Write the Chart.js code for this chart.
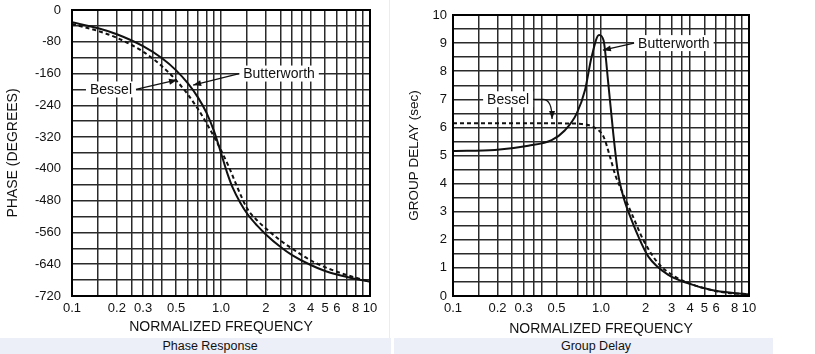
<!DOCTYPE html>
<html>
<head>
<meta charset="utf-8">
<script src="https://cdn.jsdelivr.net/npm/chart.js@4.4.0/dist/chart.umd.min.js"></script>
<style>
  body { margin: 0; background: #fff; width: 815px; height: 354px; position: relative; overflow: hidden;
         font-family: "Liberation Sans", Arial, sans-serif; }
  #w1 { position: absolute; left: 0; top: 0; }
  #w2 { position: absolute; left: 395px; top: 0; }
  #sep { position: absolute; left: 389px; top: 0; width: 1px; height: 338px; background: #ececec; }
  .cap { position: absolute; top: 338px; height: 16px; background: #eceef8; color: #111;
         font-size: 12.5px; line-height: 16px; text-align: center; box-sizing: border-box; }
  #cap1 { left: 0; width: 391px; padding-left: 29px; }
  #cap2 { left: 394px; width: 379px; padding-left: 25px; }
</style>
</head>
<body>
<canvas id="w1" width="390" height="338"></canvas>
<div id="sep"></div>
<canvas id="w2" width="420" height="338"></canvas>
<div class="cap" id="cap1">Phase Response</div>
<div class="cap" id="cap2">Group Delay</div>

<script>
// frequency axis
const freqTicks = [0.1, 0.2, 0.3, 0.5, 1.0, 2, 3, 4, 5, 6, 8, 10];
const freqTickLabels = ['0.1', '0.2', '0.3', '0.5', '1.0', '2', '3', '4', '5', '6', '8', '10'];
const phaseGrid = [0.1, 0.15, 0.2, 0.25, 0.3, 0.35, 0.4, 0.5, 0.6, 0.7, 0.8, 0.9,
                   1, 1.5, 2, 2.5, 3, 3.5, 4, 5, 6, 7, 8, 9, 10];
const delayGrid = [0.1, 0.15, 0.2, 0.25, 0.3, 0.35, 0.4, 0.5, 0.7, 0.8, 0.9,
                   1, 1.5, 2, 2.5, 3, 3.5, 4, 5, 6, 7, 8, 9, 10];

// phase response (degrees)
const phaseButterFreq = [0.1, 0.15, 0.2, 0.3, 0.4, 0.5, 0.6, 0.7, 0.8, 0.9, 1.0, 1.1, 1.2, 1.35, 1.5, 1.75, 2.0, 2.5, 3.0, 4.0, 5.0, 6.0, 8.0, 10];
const phaseButter     = [-31, -46, -61, -91, -121, -152, -185, -220, -259, -306, -360, -410, -448, -486, -513, -543, -565, -596, -617, -642, -657, -666, -677, -684];
const phaseBesselFreq = [0.1, 0.15, 0.2, 0.3, 0.4, 0.5, 0.6, 0.7, 0.8, 0.9, 1.0, 1.13, 1.3, 1.5, 1.75, 2.03, 2.5, 2.9, 4.17, 6.0, 7.7, 10];
const phaseBessel     = [-35, -53, -70, -105, -141, -177, -213, -249, -285, -320, -353, -395, -450, -500, -530, -552, -580, -597, -634, -659, -672, -684];

// group delay (sec)
const delayButterFreq = [0.1, 0.192, 0.323, 0.464, 0.571, 0.686, 0.78, 0.865, 0.97, 1.04, 1.12, 1.21, 1.30, 1.38, 1.46, 1.53, 1.79, 2.09, 2.85, 3.89, 5.6, 8, 10];
const delayButter     = [5.16, 5.2, 5.35, 5.55, 5.9, 6.5, 7.33, 8.52, 9.29, 9.1, 7.57, 5.79, 4.4, 3.75, 3.3, 3.0, 2.11, 1.4, 0.75, 0.45, 0.21, 0.1, 0.06];
const delayBesselFreq = [0.1, 0.2, 0.4, 0.6, 0.74, 0.92, 1.04, 1.15, 1.25, 1.38, 1.61, 1.93, 2.44, 3.16, 4.3, 6.5, 10];
const delayBessel     = [6.15, 6.15, 6.15, 6.14, 6.12, 5.97, 5.67, 4.96, 4.3, 3.75, 2.94, 2.0, 1.16, 0.69, 0.38, 0.14, 0.06];

// callout labels (data coords)
const phaseNotes = [
  { text: 'Butterworth', x: 1.41, y: -160, side: 'left', to: [0.65, -189] },
  { text: 'Bessel', x: 0.132, y: -200, side: 'right', to: [0.507, -176] }
];
const delayNotes = [
  { text: 'Butterworth', x: 1.78, y: 9, side: 'left', to: [1.03, 8.75] },
  { text: 'Bessel', x: 0.17, y: 7, side: 'right', via: [0.405, 7], to: [0.467, 6.3] }
];

const FONT = '"Liberation Sans", Arial, sans-serif';
const INK = '#111';
const GRID = '#2a2a2a';

function pts(xs, ys) {
  return xs.map((x, i) => ({ x: x, y: ys[i] }));
}

function freqLabel(v) {
  const i = freqTicks.findIndex(t => Math.abs(t - v) < 1e-9);
  return i >= 0 ? freqTickLabels[i] : '';
}

const framePlugin = {
  id: 'frame',
  afterDraw(chart) {
    const a = chart.chartArea, ctx = chart.ctx;
    ctx.save();
    ctx.strokeStyle = '#000';
    ctx.lineWidth = 2;
    ctx.strokeRect(a.left, a.top, a.right - a.left, a.bottom - a.top);
    ctx.restore();
  }
};

function arrowHead(ctx, fx, fy, tx, ty) {
  const ang = Math.atan2(ty - fy, tx - fx), len = 8, w = 3;
  ctx.beginPath();
  ctx.moveTo(tx, ty);
  ctx.lineTo(tx - len * Math.cos(ang) + w * Math.sin(ang), ty - len * Math.sin(ang) - w * Math.cos(ang));
  ctx.lineTo(tx - len * Math.cos(ang) - w * Math.sin(ang), ty - len * Math.sin(ang) + w * Math.cos(ang));
  ctx.closePath();
  ctx.fill();
}

const notePlugin = {
  id: 'notes',
  beforeDatasetsDraw(chart, args, opts) {
    const ctx = chart.ctx, sx = chart.scales.x, sy = chart.scales.y;
    ctx.save();
    ctx.font = '14px ' + FONT;
    ctx.textBaseline = 'middle';
    (opts.items || []).forEach(n => {
      const px = sx.getPixelForValue(n.x), py = sy.getPixelForValue(n.y);
      const w = ctx.measureText(n.text).width;
      ctx.fillStyle = '#fff';
      ctx.fillRect(px - 4, py - 8, w + 8, 16);
      ctx.fillStyle = INK;
      ctx.fillText(n.text, px, py + 1);

      const sx0 = n.side === 'left' ? px - 4 : px + w + 4;
      const ex = sx.getPixelForValue(n.to[0]), ey = sy.getPixelForValue(n.to[1]);
      ctx.strokeStyle = INK;
      ctx.lineWidth = 1.2;
      ctx.beginPath();
      ctx.moveTo(sx0, py);
      let fx = sx0, fy = py;
      if (n.via) {
        const vx = sx.getPixelForValue(n.via[0]), vy = sy.getPixelForValue(n.via[1]);
        ctx.lineTo(vx, vy);
        ctx.quadraticCurveTo(ex, vy, ex, ey);
        fx = ex; fy = vy;
      } else {
        ctx.lineTo(ex, ey);
      }
      ctx.stroke();
      arrowHead(ctx, fx, fy, ex, ey);
    });
    ctx.restore();
  }
};

function makeChart(id, o) {
  return new Chart(document.getElementById(id), {
    type: 'line',
    data: {
      datasets: [
        { label: 'Butterworth', data: o.butter, borderColor: INK, borderWidth: 2,
          pointRadius: 0, cubicInterpolationMode: 'monotone' },
        { label: 'Bessel', data: o.bessel, borderColor: INK, borderWidth: 2, borderDash: [4, 3],
          pointRadius: 0, cubicInterpolationMode: 'monotone' }
      ]
    },
    options: {
      responsive: false,
      animation: false,
      layout: { padding: o.pad },
      plugins: {
        legend: { display: false },
        tooltip: { enabled: false },
        notes: { items: o.notes }
      },
      scales: {
        x: {
          type: 'logarithmic',
          min: 0.1,
          max: 10,
          afterBuildTicks: s => { s.ticks = o.grid.map(v => ({ value: v })); },
          afterFit: s => { s.height = 42; },
          grid: { color: GRID, lineWidth: 1.5, drawTicks: false },
          border: { display: false },
          ticks: { autoSkip: false, maxRotation: 0, padding: 5, color: INK,
                   font: { family: FONT, size: 13 }, callback: v => freqLabel(v) },
          title: { display: true, text: 'NORMALIZED FREQUENCY', color: INK,
                   font: { family: FONT, size: 14 }, padding: { bottom: o.xtPad, top: 0 } }
        },
        y: {
          min: o.ymin,
          max: o.ymax,
          afterFit: s => { s.width = o.yw; s.paddingTop = 0; s.paddingBottom = 0; },
          grid: { color: GRID, lineWidth: 1.5, drawTicks: false },
          border: { display: false },
          ticks: { stepSize: o.step, autoSkip: false, padding: o.ytick, color: INK,
                   font: { family: FONT, size: 13 }, callback: o.ylabel },
          title: { display: true, text: o.ytitle, color: INK,
                   font: { family: FONT, size: o.ytSize }, padding: { top: o.ytPad, bottom: 0 } }
        }
      }
    },
    plugins: [notePlugin, framePlugin]
  });
}

makeChart('w1', {
  butter: pts(phaseButterFreq, phaseButter),
  bessel: pts(phaseBesselFreq, phaseBessel),
  notes: phaseNotes,
  grid: phaseGrid,
  pad: { left: 0, right: 20, top: 10, bottom: 0 },
  yw: 72, ytick: 11, ytPad: 4.6, ytSize: 14, xtPad: 2,
  ymin: -720, ymax: 0, step: 40,
  ylabel: v => (v % 80 === 0 ? String(v) : ''),
  ytitle: 'PHASE (DEGREES)'
});

makeChart('w2', {
  butter: pts(delayButterFreq, delayButter),
  bessel: pts(delayBesselFreq, delayBessel),
  notes: delayNotes,
  grid: delayGrid,
  pad: { left: 0, right: 66, top: 15, bottom: 0 },
  yw: 58, ytick: 6, ytPad: 11.6, ytSize: 13.5, xtPad: 0,
  ymin: 0, ymax: 10, step: 0.5,
  ylabel: v => (Number.isInteger(v) ? String(v) : ''),
  ytitle: 'GROUP DELAY (sec)'
});
</script>
</body>
</html>
